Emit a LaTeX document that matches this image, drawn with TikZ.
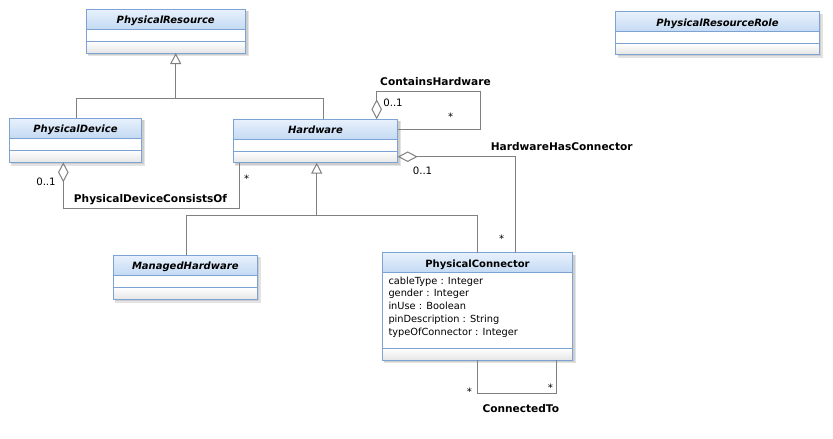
\documentclass[tikz,border=0pt]{standalone}
\usepackage{fontspec}
\setmainfont{DejaVu Sans}
\usetikzlibrary{arrows.meta,fit}
\definecolor{bord}{RGB}{125,162,212}
\definecolor{hdtop}{RGB}{232,241,252}
\definecolor{hdbot}{RGB}{196,218,243}
\definecolor{botc}{RGB}{230,230,230}
\definecolor{linec}{RGB}{128,128,128}
\definecolor{shadowc}{RGB}{205,205,205}
\tikzset{
  conn/.style={draw=linec, line width=1pt},
  gen/.style={conn, -{Triangle[open,length=11pt,width=11pt]}},
  agg/.style={conn, {Diamond[open,length=20pt,width=10.5pt]}-},
  lbl/.style={font=\fontsize{10.6}{12}\selectfont\bfseries, inner sep=0pt, text depth=0pt},
  mult/.style={font=\fontsize{10.2}{12}\selectfont, inner sep=0pt, text depth=0pt},
  attr/.style={font=\fontsize{9.8}{12}\selectfont, inner sep=0pt, anchor=base west},
  umltitle/.style={font=\fontsize{10}{12}\selectfont\bfseries, inner sep=0pt},
}
\newcommand\umlclass[8]{%
  \fill[shadowc!55] (#2+2,#3+2) rectangle (#4+3.2,#7+3.2);
  \fill[shadowc] (#2+2,#3+2) rectangle (#4+2,#7+2);
  \node[fit={(#2,#3) (#4,#7)}, inner sep=0pt, outer sep=0pt, fill=white] (#1) {};
  \shade[top color=hdtop, bottom color=hdbot] (#2,#3) rectangle (#4,#5);
  \shade[top color=white, bottom color=botc] (#2,#6) rectangle (#4,#7);
  \draw[bord, line width=1pt] (#2,#5) -- (#4,#5) (#2,#6) -- (#4,#6);
  \draw[bord, line width=1pt] (#1.north west) rectangle (#1.south east);
  \node[umltitle, anchor=base] (#1t) at ({(#2+#4)/2},{(#5+#3)/2+4.5}) {#8};
}
\begin{document}
\begin{tikzpicture}[x=1pt,y=-1pt]
\useasboundingbox[fill=white] (0,0) rectangle (833,439);

\umlclass{PR}{86}{9.3}{245.5}{29}{41}{53}{\itshape PhysicalResource}
\umlclass{PRR}{615.7}{11.7}{819.3}{31.7}{43.3}{54.3}{\itshape PhysicalResourceRole}
\umlclass{PD}{9.3}{118.3}{141.7}{138}{150}{162.3}{\itshape PhysicalDevice}
\umlclass{HW}{233.3}{119.3}{397.7}{139.3}{151}{162.7}{\itshape Hardware}
\umlclass{MH}{113.3}{255.3}{257.3}{275}{287.3}{299.3}{\itshape ManagedHardware}
\umlclass{PC}{382.3}{252.7}{572.7}{272.3}{348.3}{360}{PhysicalConnector}

\foreach \t [count=\i from 0] in {cableType : Integer, gender : Integer, inUse : Boolean, pinDescription : String, typeOfConnector : Integer}
  \node[attr] (attr\i) at (388.3,{284+12.75*\i}) {\t};

% generalizations
\draw[gen] ([xshift=67.4pt]PD.north west) |- ([xshift=89.7pt,yshift=-45pt]PR.south west) -- ([xshift=89.7pt]PR.south west);
\draw[conn] ([xshift=90pt]HW.north west) |- ([xshift=89.7pt,yshift=-45pt]PR.south west);
\draw[gen] ([xshift=73.4pt]MH.north west) |- ([xshift=83.4pt,yshift=-52.3pt]HW.south west) -- ([xshift=83.4pt]HW.south west);
\draw[conn] ([xshift=95.4pt]PC.north west) |- ([xshift=83.4pt,yshift=-52.3pt]HW.south west);

% associations
\draw[agg] ([xshift=143.4pt]HW.north west) -- ++(0,-27.6) -| ++(103.3,37.3) -- ([yshift=12pt]HW.east);
\draw[agg] ([yshift=-15.7pt]HW.east) -| ([xshift=133.4pt]PC.north west);
\draw[agg] ([xshift=54pt]PD.south west) -- ++(0,46) -| ([xshift=6pt]HW.south west);
\draw[conn] ([xshift=95.4pt]PC.south west) -- ++(0,33.3) -| ([xshift=173.7pt]PC.south west);

% labels
\node[lbl] (lch) at (435.5,81.5) {ContainsHardware};
\node[mult] (mch1) at (393,103) {0..1};
\node[mult] (mch2) at (450.7,116.3) {*};
\node[lbl] (lhc) at (561.7,146.7) {HardwareHasConnector};
\node[mult] (mhc1) at (422.5,170.3) {0..1};
\node[mult] (mhc2) at (501.7,238.7) {*};
\node[lbl] (lpd) at (150.5,198) {PhysicalDeviceConsistsOf};
\node[mult] (mpd1) at (46,181.7) {0..1};
\node[mult] (mpd2) at (246.7,178.7) {*};
\node[mult] (mct1) at (469.3,392) {*};
\node[mult] (mct2) at (550.3,387.7) {*};
\node[lbl] (lct) at (520.8,408.8) {ConnectedTo};
\end{tikzpicture}
\end{document}
